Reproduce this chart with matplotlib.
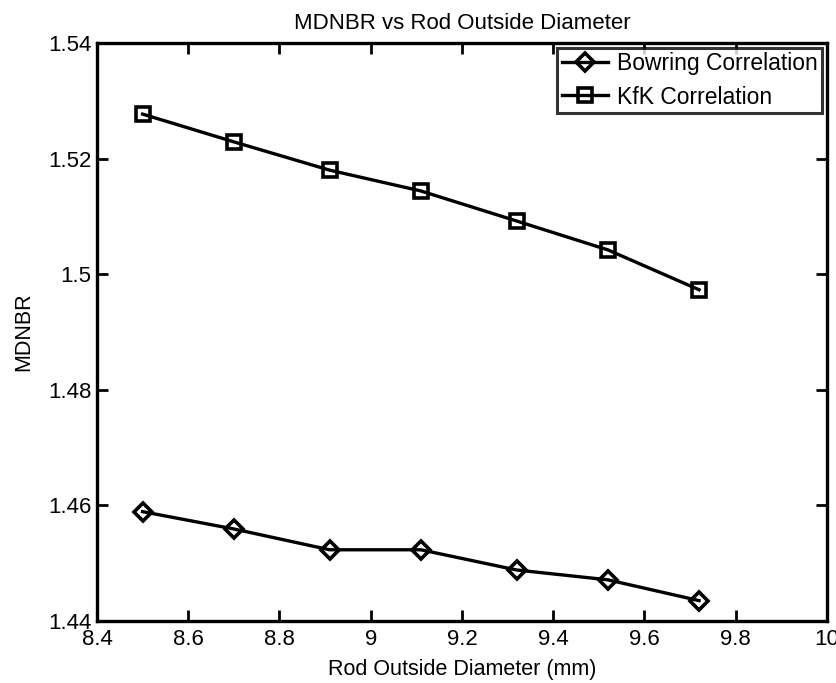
import matplotlib
matplotlib.use("Agg")
import matplotlib.pyplot as plt

# diámetro exterior de la varilla (mm)
diametro = [8.5, 8.7, 8.91, 9.11, 9.32, 9.52, 9.72]

# MDNBR para cada correlación
bowring = [1.4589, 1.4559, 1.4523, 1.4523, 1.4488, 1.4471, 1.4435]
kfk = [1.5277, 1.5229, 1.5180, 1.5144, 1.5092, 1.5042, 1.4973]

xticks = [8.4, 8.6, 8.8, 9, 9.2, 9.4, 9.6, 9.8, 10]
xticklabels = ['8.4', '8.6', '8.8', '9', '9.2', '9.4', '9.6', '9.8', '10']
yticks = [1.44, 1.46, 1.48, 1.50, 1.52, 1.54]
yticklabels = ['1.44', '1.46', '1.48', '1.5', '1.52', '1.54']

plt.rcParams['font.family'] = ['Liberation Sans', 'DejaVu Sans']

fig = plt.figure(figsize=(8.36, 6.83), dpi=100)
ax = fig.add_axes([0.116, 0.091, 0.873, 0.846])

ax.plot(diametro, bowring, color='black', linewidth=2.4, marker='D',
        markersize=9, markerfacecolor='none', markeredgewidth=2.6,
        label='Bowring Correlation')
ax.plot(diametro, kfk, color='black', linewidth=2.4, marker='s',
        markersize=10, markerfacecolor='none', markeredgewidth=2.6,
        label='KfK Correlation')

ax.set_xlim(8.4, 10)
ax.set_ylim(1.44, 1.54)
ax.set_xticks(xticks)
ax.set_xticklabels(xticklabels)
ax.set_yticks(yticks)
ax.set_yticklabels(yticklabels)
ax.tick_params(direction='in', length=8, width=2, labelsize=16,
               top=True, right=True)
ax.tick_params(axis='x', pad=6)
ax.tick_params(axis='y', pad=4)
for s in ax.spines.values():
    s.set_linewidth(2.4)

ax.set_title('MDNBR vs Rod Outside Diameter', fontsize=16, pad=10)
ax.set_xlabel('Rod Outside Diameter (mm)', fontsize=15.5, labelpad=6)
ax.set_ylabel('MDNBR', fontsize=15.5, labelpad=10)

leg = ax.legend(loc='upper right', fontsize=16.5, frameon=True, fancybox=False,
                edgecolor='black', borderpad=0.2, handlelength=2.0,
                handletextpad=0.4, borderaxespad=0.2, labelspacing=0.45)
leg.get_frame().set_linewidth(2.2)

fig.savefig('out.png', dpi=100)
